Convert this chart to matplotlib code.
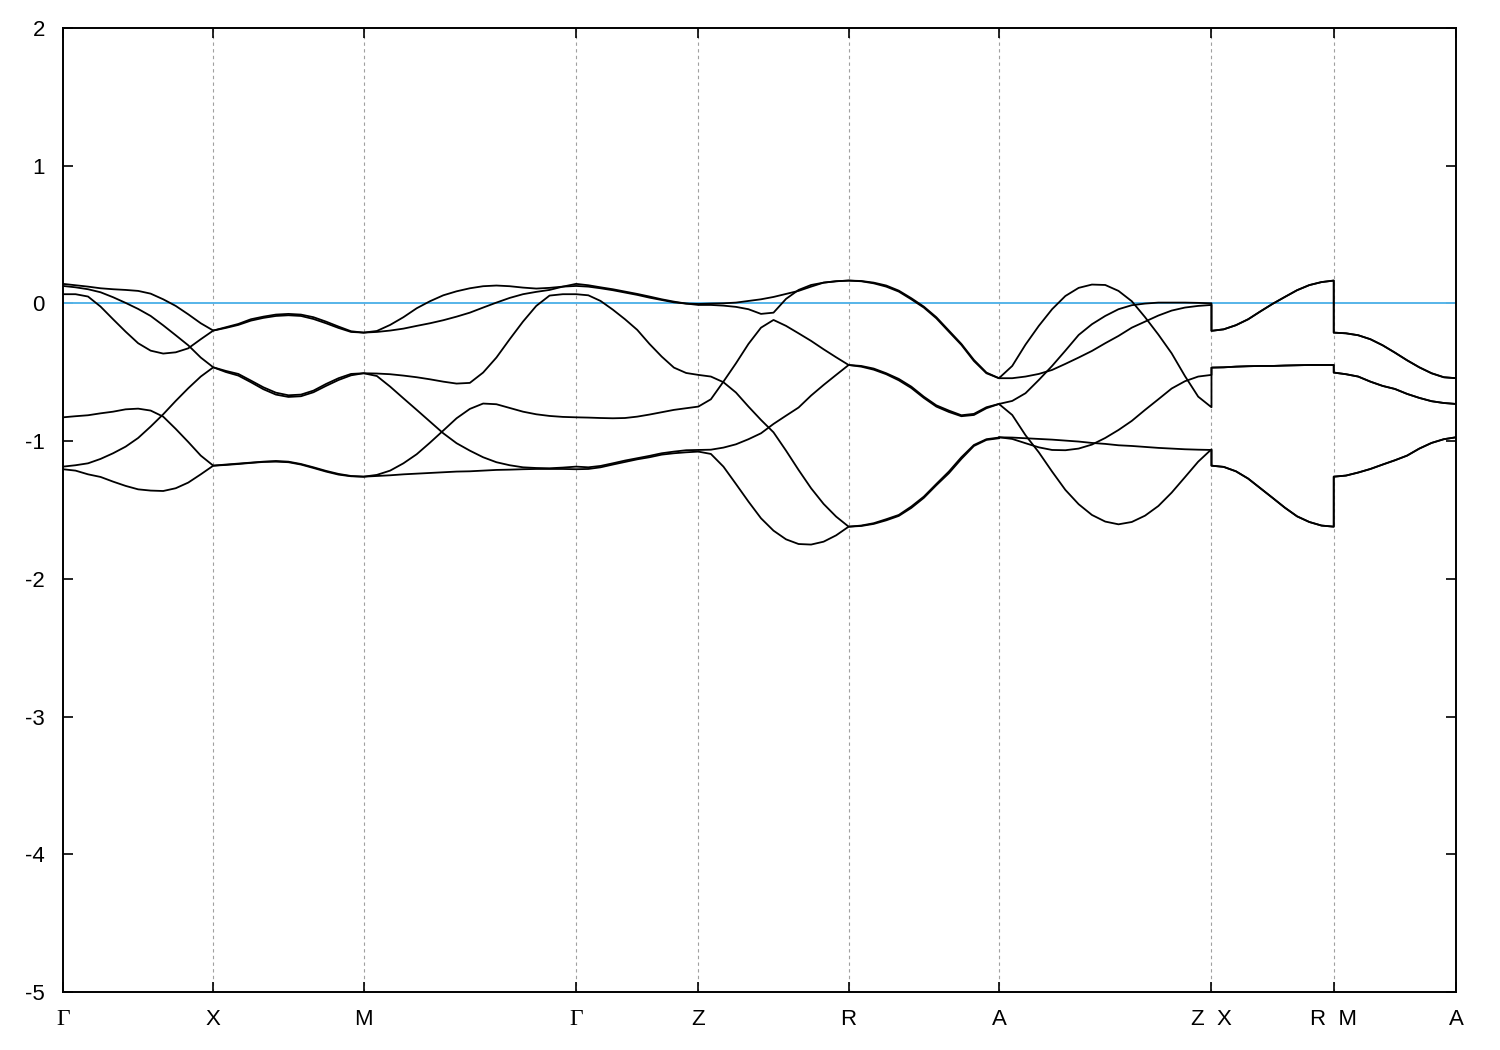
import numpy as np
import matplotlib
matplotlib.use("Agg")
import matplotlib.pyplot as plt

# high-symmetry points along the path
labels = ["Γ", "X", "M", "Γ", "Z", "R", "A", "Z  X", "R  M", "A"]
kpts = [0.0, 1.0, 2.0, 3.4142, 4.2277, 5.2277, 6.2277, 7.6419, 8.4554, 9.2689]
nsub = [12, 12, 16, 10, 12, 12, 16, 10, 10]

# band energies (eV) per path segment
band1 = [
    [0.142, 0.132, 0.122, 0.110, 0.103, 0.098, 0.091, 0.071, 0.030, -0.018, -0.079, -0.144, -0.197],
    [-0.197, -0.173, -0.149, -0.115, -0.096, -0.081, -0.076, -0.081, -0.100, -0.132, -0.168, -0.202, -0.212],
    [-0.212, -0.200, -0.156, -0.100, -0.035, 0.016, 0.059, 0.088, 0.110, 0.125, 0.130, 0.125, 0.115, 0.108, 0.113, 0.122, 0.127],
    [0.127, 0.122, 0.110, 0.096, 0.079, 0.062, 0.042, 0.025, 0.008, -0.001, -0.004],
    [-0.004, -0.001, 0.001, 0.006, 0.018, 0.030, 0.047, 0.069, 0.091, 0.122, 0.151, 0.161, 0.166],
    [0.166, 0.163, 0.151, 0.130, 0.093, 0.038, -0.023, -0.100, -0.197, -0.294, -0.410, -0.502, -0.543],
    [-0.543, -0.454, -0.299, -0.163, -0.042, 0.054, 0.113, 0.137, 0.134, 0.091, 0.016, -0.100, -0.226, -0.362, -0.527, -0.677, -0.754],
    [-0.466, -0.464, -0.459, -0.456, -0.454, -0.454, -0.451, -0.449, -0.447, -0.447, -0.447],
    [-0.502, -0.514, -0.531, -0.568, -0.599, -0.621, -0.657, -0.686, -0.710, -0.723, -0.730],
]
band2 = [
    [0.067, 0.067, 0.050, -0.023, -0.115, -0.205, -0.289, -0.343, -0.364, -0.355, -0.326, -0.260, -0.197],
    [-0.197, -0.178, -0.156, -0.125, -0.105, -0.091, -0.086, -0.091, -0.113, -0.144, -0.178, -0.207, -0.212],
    [-0.212, -0.207, -0.197, -0.183, -0.163, -0.144, -0.122, -0.096, -0.067, -0.030, 0.006, 0.040, 0.067, 0.084, 0.098, 0.122, 0.142],
    [0.142, 0.132, 0.117, 0.103, 0.086, 0.069, 0.050, 0.030, 0.013, -0.001, -0.011],
    [-0.011, -0.011, -0.016, -0.025, -0.042, -0.076, -0.067, 0.033, 0.098, 0.134, 0.151, 0.161, 0.166],
    [0.166, 0.161, 0.146, 0.122, 0.086, 0.030, -0.030, -0.108, -0.205, -0.301, -0.418, -0.507, -0.543],
    [-0.543, -0.543, -0.531, -0.512, -0.483, -0.439, -0.393, -0.345, -0.289, -0.236, -0.176, -0.132, -0.088, -0.052, -0.030, -0.018, -0.011],
    [-0.199, -0.188, -0.158, -0.115, -0.058, -0.003, 0.047, 0.096, 0.133, 0.155, 0.166],
    [-0.212, -0.217, -0.231, -0.260, -0.304, -0.357, -0.413, -0.464, -0.507, -0.536, -0.543],
]
band3 = [
    [0.127, 0.117, 0.103, 0.081, 0.045, 0.004, -0.040, -0.091, -0.159, -0.231, -0.304, -0.393, -0.464],
    [-0.464, -0.490, -0.512, -0.560, -0.609, -0.648, -0.667, -0.662, -0.633, -0.585, -0.543, -0.512, -0.507],
    [-0.507, -0.509, -0.514, -0.524, -0.536, -0.551, -0.568, -0.582, -0.577, -0.502, -0.393, -0.260, -0.132, -0.018, 0.057, 0.067, 0.067],
    [0.067, 0.059, 0.018, -0.045, -0.115, -0.192, -0.294, -0.386, -0.466, -0.505, -0.519],
    [-0.519, -0.531, -0.572, -0.647, -0.749, -0.846, -0.936, -1.069, -1.209, -1.342, -1.456, -1.548, -1.621],
    [-1.621, -1.613, -1.596, -1.567, -1.536, -1.475, -1.403, -1.311, -1.221, -1.117, -1.028, -0.986, -0.974],
    [-0.972, -0.974, -0.979, -0.984, -0.989, -0.996, -1.003, -1.013, -1.020, -1.030, -1.035, -1.042, -1.049, -1.054, -1.059, -1.062, -1.064],
    [-1.178, -1.187, -1.219, -1.272, -1.342, -1.412, -1.483, -1.546, -1.587, -1.613, -1.621],
    [-1.258, -1.250, -1.228, -1.202, -1.170, -1.139, -1.105, -1.054, -1.013, -0.986, -0.972],
]
band4 = [
    [-1.185, -1.175, -1.161, -1.129, -1.088, -1.040, -0.977, -0.894, -0.805, -0.708, -0.616, -0.531, -0.464],
    [-0.464, -0.498, -0.524, -0.572, -0.623, -0.662, -0.679, -0.674, -0.645, -0.599, -0.556, -0.522, -0.507],
    [-0.507, -0.527, -0.604, -0.689, -0.773, -0.858, -0.943, -1.015, -1.069, -1.117, -1.153, -1.175, -1.190, -1.195, -1.197, -1.192, -1.185],
    [-1.185, -1.190, -1.180, -1.161, -1.141, -1.124, -1.107, -1.088, -1.076, -1.066, -1.064],
    [-1.064, -1.062, -1.047, -1.023, -0.986, -0.943, -0.875, -0.815, -0.756, -0.669, -0.592, -0.519, -0.447],
    [-0.447, -0.454, -0.473, -0.507, -0.548, -0.604, -0.677, -0.740, -0.778, -0.812, -0.802, -0.754, -0.730],
    [-0.730, -0.708, -0.652, -0.556, -0.454, -0.343, -0.229, -0.151, -0.091, -0.042, -0.013, -0.001, 0.006, 0.006, 0.006, 0.004, 0.001],
    [-0.199, -0.188, -0.158, -0.115, -0.058, -0.003, 0.047, 0.096, 0.133, 0.155, 0.166],
    [-0.212, -0.217, -0.231, -0.260, -0.304, -0.357, -0.413, -0.464, -0.507, -0.536, -0.543],
]
band5 = [
    [-0.827, -0.819, -0.812, -0.798, -0.786, -0.769, -0.764, -0.778, -0.822, -0.911, -1.006, -1.105, -1.178],
    [-1.178, -1.170, -1.163, -1.156, -1.149, -1.144, -1.149, -1.166, -1.190, -1.216, -1.238, -1.253, -1.258],
    [-1.258, -1.245, -1.214, -1.161, -1.095, -1.011, -0.923, -0.834, -0.766, -0.727, -0.732, -0.759, -0.786, -0.805, -0.817, -0.824, -0.827],
    [-0.827, -0.829, -0.832, -0.834, -0.832, -0.822, -0.807, -0.790, -0.773, -0.761, -0.749],
    [-0.749, -0.696, -0.568, -0.435, -0.294, -0.176, -0.120, -0.163, -0.217, -0.272, -0.333, -0.391, -0.447],
    [-0.447, -0.459, -0.481, -0.514, -0.558, -0.614, -0.686, -0.749, -0.788, -0.819, -0.810, -0.761, -0.730],
    [-0.730, -0.810, -0.957, -1.081, -1.221, -1.354, -1.458, -1.536, -1.584, -1.604, -1.587, -1.541, -1.471, -1.374, -1.262, -1.149, -1.059],
    [-1.178, -1.187, -1.219, -1.272, -1.342, -1.412, -1.483, -1.546, -1.587, -1.613, -1.621],
    [-1.258, -1.250, -1.228, -1.202, -1.170, -1.139, -1.105, -1.054, -1.013, -0.986, -0.972],
]
band6 = [
    [-1.204, -1.214, -1.241, -1.260, -1.294, -1.325, -1.350, -1.359, -1.362, -1.342, -1.301, -1.241, -1.178],
    [-1.178, -1.173, -1.166, -1.158, -1.151, -1.149, -1.153, -1.170, -1.195, -1.221, -1.243, -1.255, -1.258],
    [-1.258, -1.253, -1.248, -1.241, -1.236, -1.231, -1.226, -1.221, -1.219, -1.214, -1.209, -1.207, -1.204, -1.202, -1.202, -1.202, -1.204],
    [-1.204, -1.202, -1.190, -1.170, -1.151, -1.132, -1.117, -1.098, -1.088, -1.081, -1.076],
    [-1.076, -1.093, -1.185, -1.311, -1.439, -1.560, -1.650, -1.713, -1.747, -1.751, -1.730, -1.684, -1.621],
    [-1.621, -1.616, -1.601, -1.575, -1.543, -1.485, -1.412, -1.320, -1.233, -1.129, -1.035, -0.991, -0.979],
    [-0.972, -0.984, -1.015, -1.045, -1.064, -1.066, -1.054, -1.025, -0.977, -0.919, -0.853, -0.773, -0.696, -0.618, -0.565, -0.531, -0.519],
    [-0.466, -0.464, -0.459, -0.456, -0.454, -0.454, -0.451, -0.449, -0.447, -0.447, -0.447],
    [-0.502, -0.514, -0.531, -0.568, -0.599, -0.621, -0.657, -0.686, -0.710, -0.723, -0.730],
]
bands = [band1, band2, band3, band4, band5, band6]

fig = plt.figure(figsize=(15, 10.5), dpi=100)
ax = fig.add_axes([63 / 1500, 1 - 992 / 1050, (1456 - 63) / 1500, (992 - 28) / 1050])

# vertical dashed lines at interior high-symmetry points
for xk in kpts[1:-1]:
    ax.axvline(xk, color="#a0a0a0", lw=0.8, ls=(0, (3, 3)), zorder=1)

ax.axhline(0.0, color="#56b4e9", lw=1.4, zorder=2)

for band in bands:
    ks, es = [], []
    for i, seg in enumerate(band):
        kk = np.linspace(kpts[i], kpts[i + 1], nsub[i] + 1)
        ks.extend(kk)
        es.extend(seg)
    ax.plot(ks, es, color="black", lw=1.3, zorder=3,
            solid_joinstyle="round", solid_capstyle="round")

ax.set_xlim(kpts[0], kpts[-1])
ax.set_ylim(-5, 2)
ax.set_xticks(kpts)
ax.set_xticklabels(labels)
ax.set_yticks(range(-5, 3))
ax.set_yticklabels([str(v) for v in range(-5, 3)])

ax.tick_params(direction="in", length=7, width=1.2, top=True, right=True,
               labelsize=16)
ax.tick_params(axis="y", pad=13)
ax.tick_params(axis="x", pad=12)
for lab in ax.get_xticklabels() + ax.get_yticklabels():
    lab.set_fontfamily("Liberation Sans")
for lab in ax.get_xticklabels():
    if lab.get_text() == "Γ":
        lab.set_fontfamily("Liberation Serif")
        lab.set_fontsize(17)
for sp in ax.spines.values():
    sp.set_linewidth(1.4)

fig.savefig("out.png", dpi=100)
